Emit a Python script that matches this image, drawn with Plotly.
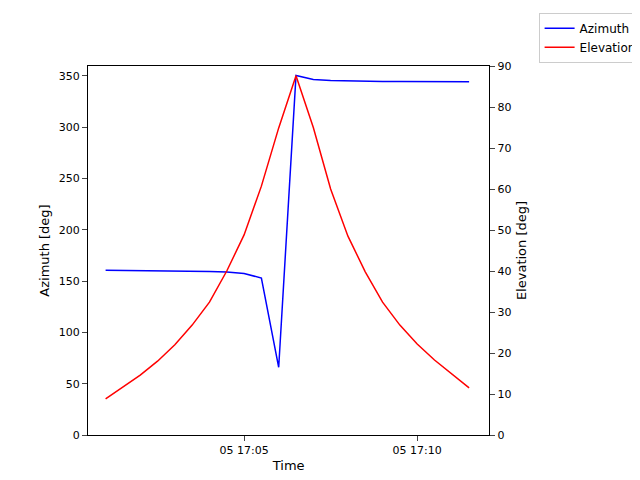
import plotly.graph_objects as go
import pandas as pd

times = pd.date_range("2024-01-05 17:01:00", periods=22, freq="30s")
azimuth = [160.5, 160.4, 160.3, 160.2, 160.0, 159.8, 159.5, 159.0, 157.5, 153.0, 66.0,
           350.5, 346.5, 345.5, 345.0, 344.8, 344.6, 344.5, 344.4, 344.3, 344.3, 344.3]
elevation = [8.8, 11.7, 14.6, 18.0, 22.0, 26.8, 32.4, 40.0, 48.8, 60.7, 74.9, 87.6,
             75.0, 60.0, 48.5, 39.8, 32.4, 26.8, 22.2, 18.3, 14.9, 11.5]

fig = go.Figure()
fig.add_trace(go.Scatter(x=times, y=azimuth, name="Azimuth", mode="lines",
                         line=dict(color="blue", width=1.5)))
fig.add_trace(go.Scatter(x=times, y=elevation, name="Elevation", mode="lines",
                         line=dict(color="red", width=1.5), yaxis="y2"))
ax = dict(showline=True, linecolor="black", ticks="outside",
          showgrid=False, zeroline=False, tickfont=dict(size=11, color="black"))
fig.update_layout(
    width=640, height=480, plot_bgcolor="white", paper_bgcolor="white",
    font=dict(family="DejaVu Sans", size=11, color="black"),
    margin=dict(l=80, r=64, t=58, b=53),
    xaxis=dict(**ax, range=["2024-01-05 17:00:29.5", "2024-01-05 17:12:05"],
               tick0="2024-01-05 17:05:00", dtick=300000, tickformat="%d %H:%M",
               title=dict(text="Time", standoff=4), mirror=True),
    yaxis=dict(**ax, range=[0, 359.7], dtick=50,
               title=dict(text="Azimuth [deg]", standoff=6)),
    yaxis2=dict(**ax, overlaying="y", side="right", range=[0, 90], dtick=10,
                title=dict(text="Elevation [deg]", standoff=6)),
    legend=dict(x=0.99, y=0.99, xref="container", yref="container",
                xanchor="right", yanchor="top", bordercolor="#ccc", borderwidth=1,
                bgcolor="white", font=dict(size=12)),
)
fig.write_html("out.html")
